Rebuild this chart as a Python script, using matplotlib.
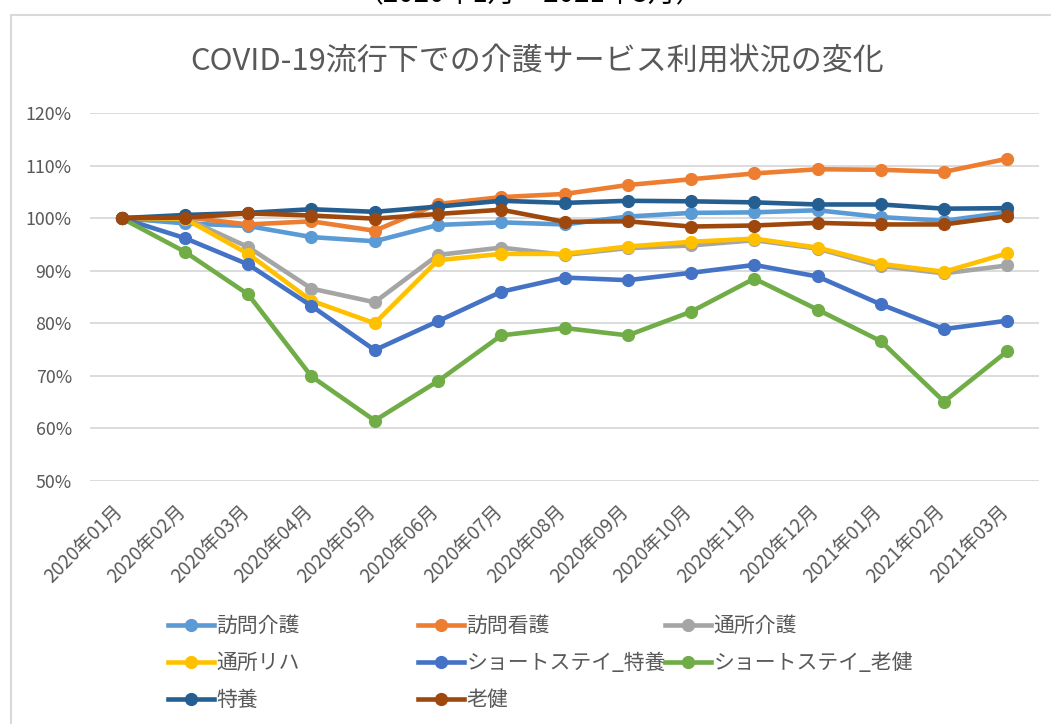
import matplotlib
matplotlib.use("Agg")
import matplotlib.pyplot as plt
import matplotlib.transforms as mtransforms
from matplotlib.lines import Line2D
from matplotlib.patches import Rectangle
from matplotlib.ticker import FuncFormatter, MultipleLocator

plt.rcParams['font.family'] = ['Noto Sans CJK JP', 'DejaVu Sans']

months = ["2020年01月", "2020年02月", "2020年03月", "2020年04月", "2020年05月",
          "2020年06月", "2020年07月", "2020年08月", "2020年09月", "2020年10月",
          "2020年11月", "2020年12月", "2021年01月", "2021年02月", "2021年03月"]

houmon_kaigo   = [100, 99.0, 98.5, 96.4, 95.6, 98.7, 99.2, 98.8, 100.3, 101.0, 101.1, 101.5, 100.2, 99.5, 101.1]
houmon_kango   = [100, 100.2, 98.8, 99.4, 97.6, 102.7, 104.0, 104.6, 106.3, 107.4, 108.5, 109.3, 109.2, 108.8, 111.3]
tsusho_kaigo   = [100, 100.0, 94.5, 86.6, 84.0, 93.0, 94.4, 93.0, 94.3, 94.8, 95.8, 94.2, 90.9, 89.5, 91.0]
tsusho_riha    = [100, 99.9, 93.2, 84.3, 80.0, 92.0, 93.2, 93.2, 94.6, 95.5, 96.1, 94.4, 91.3, 89.8, 93.3]
short_tokuyo   = [100, 96.2, 91.2, 83.3, 74.9, 80.4, 86.0, 88.7, 88.2, 89.6, 91.1, 88.9, 83.6, 78.9, 80.5]
short_roken    = [100, 93.6, 85.5, 69.9, 61.5, 69.0, 77.7, 79.1, 77.7, 82.2, 88.5, 82.6, 76.6, 65.1, 74.7]
tokuyo         = [100, 100.6, 101.0, 101.7, 101.2, 102.2, 103.3, 102.9, 103.3, 103.2, 103.0, 102.6, 102.6, 101.8, 101.9]
roken          = [100, 100.1, 100.9, 100.5, 99.9, 100.8, 101.6, 99.3, 99.4, 98.4, 98.6, 99.1, 98.8, 98.8, 100.4]

series_names = ["訪問介護", "訪問看護", "通所介護", "通所リハ", "ショートステイ_特養",
                "ショートステイ_老健", "特養", "老健"]
series_values = [houmon_kaigo, houmon_kango, tsusho_kaigo, tsusho_riha,
                 short_tokuyo, short_roken, tokuyo, roken]
series_colors = ["#5B9BD5", "#ED7D31", "#A5A5A5", "#FFC000", "#4472C4",
                 "#70AD47", "#255E91", "#9E480E"]

title = "COVID-19流行下での介護サービス利用状況の変化"
subtitle = "（2020年1月～2021年3月）"

W, H = 1051, 724
fig = plt.figure(figsize=(W / 100, H / 100), dpi=100)
fig.patch.set_facecolor("white")

# chart border (Excel chart area)
fig.patches.append(Rectangle((11 / W, -0.1), 1.2, 1 - 15 / H + 0.1,
                             transform=fig.transFigure, fill=False,
                             edgecolor="#D9D9D9", linewidth=1.5))

# partially visible subtitle above the chart (cut off at the top, as in the source)
fig.text(530 / W, 1 - 2 / H, subtitle, ha="center", va="baseline",
         fontsize=20, color="#000000")

fig.text(537 / W, 1 - 61 / H, title, ha="center", va="center",
         fontsize=22.3, color="#595959")

left, right, top, bottom = 90, 1039, 113, 481
ax = fig.add_axes([left / W, 1 - bottom / H, (right - left) / W, (bottom - top) / H])

x = list(range(len(months)))
text_color = "#595959"
for i, (name, vals, col) in enumerate(zip(series_names, series_values, series_colors)):
    ax.plot(x, vals, color=col, linewidth=3.3, marker="o", markersize=8.5,
            solid_capstyle="round", solid_joinstyle="round", label=name, zorder=3 + i)

ax.set_xlim(-0.5, len(months) - 0.5)
ax.set_ylim(50, 120)
ax.yaxis.set_major_locator(MultipleLocator(10))
ax.yaxis.set_major_formatter(FuncFormatter(lambda v, p: f"{v:.0f}%"))
ax.grid(axis="y", color="#D9D9D9", linewidth=1.3)
ax.set_axisbelow(True)
for s in ax.spines.values():
    s.set_visible(False)
ax.tick_params(axis="both", length=0, colors=text_color)
ax.tick_params(axis="y", labelsize=12.8, pad=13)
ax.set_xticks(x)
ax.set_xticklabels(months, rotation=45, ha="right", fontsize=13.6)
ax.tick_params(axis="x", pad=14)
shift = mtransforms.ScaledTranslation(5 / 100, 0, fig.dpi_scale_trans)
for lbl in ax.get_xticklabels():
    lbl.set_transform(lbl.get_transform() + shift)

# legend: three columns placed like Excel's equal-width layout
handles = [Line2D([0], [0], color=c, linewidth=3.3, marker="o", markersize=8.5)
           for c in series_colors]
col_groups = [[0, 3, 6], [1, 4, 7], [2, 5]]
col_x = [168, 418, 665]
for gi, grp in enumerate(col_groups):
    leg = fig.legend([handles[k] for k in grp], [series_names[k] for k in grp],
                     loc="upper left", bbox_to_anchor=(col_x[gi] / W, 1 - 615 / H),
                     frameon=False, fontsize=15, handlelength=2.2,
                     handletextpad=0.12, labelspacing=0.72, borderaxespad=0,
                     borderpad=0)
    for t in leg.get_texts():
        t.set_color(text_color)

fig.savefig("out.png", dpi=100, facecolor="white")
